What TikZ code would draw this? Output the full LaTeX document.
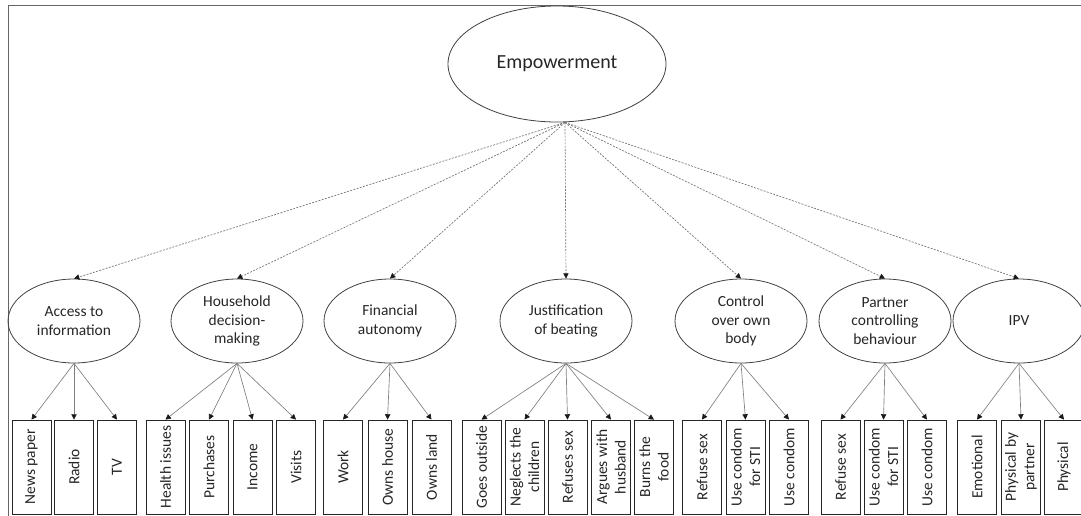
\documentclass[tikz,border=0pt]{standalone}
\usepackage{fontspec}
\setmainfont{Carlito}
\usetikzlibrary{arrows.meta,shapes.geometric}
\begin{document}
\begin{tikzpicture}[x=0.75pt,y=-0.75pt,
  every node/.style={font=\fontsize{11.6}{13.9}\selectfont, text=black!85},
  topfactor/.style={ellipse, draw=black!75, line width=0.6pt, minimum width=163.5pt,
    minimum height=87pt, inner sep=0pt, font=\fontsize{15}{18}\selectfont},
  latent/.style={ellipse, draw=black!75, line width=0.6pt, minimum width=99pt,
    minimum height=63pt, inner sep=0pt, align=center},
  item/.style={draw=black!85, line width=0.6pt, rotate=90, minimum width=70.5pt,
    minimum height=29.25pt, inner sep=1pt, align=center},
  load/.style={draw=black!50, line width=0.5pt,
    -{Triangle[length=4pt,width=4pt,color=black!90]}},
  factorpath/.style={draw=black!55, line width=0.5pt, dash pattern=on 1.5pt off 1pt,
    -{Triangle[length=4pt,width=4pt,color=black!90]}}]
\useasboundingbox (0,0) rectangle (1081,515);
\clip (0,0) rectangle (1081,515);

% outer frame
\draw[draw=black!60, line width=1.1pt] (8.5,600) -- (8.5,5.5) -- (1100,5.5);

% second-order factor
\node[topfactor] (emp) at (557,64) {Empowerment};
\coordinate (hub) at ([xshift=6pt]emp.south);

% first-order factors
\node[latent] (acc) at (74,321)   {Access to\\information};
\node[latent] (hh)  at (237,321)  {Household\\decision-\\making};
\node[latent] (fin) at (390,321)  {Financial\\autonomy};
\node[latent] (jus) at (566,321)  {Justification\\of beating};
\node[latent] (ctl) at (741,321)  {Control\\over own\\body};
\node[latent] (par) at (885,321)  {Partner\\controlling\\behaviour};
\node[latent] (ipv) at (1019,321) {IPV};

\foreach \f in {acc,hh,fin,jus,ctl,par,ipv}
  \draw[factorpath] (hub) -- (\f.north);

% indicators
\node[item] (np)  at (31.5,467)  {News paper};
\node[item] (rad) at (74,467)    {Radio};
\node[item] (tv)  at (117,467)   {TV};
\node[item] (hi)  at (165.5,467) {Health issues};
\node[item] (pur) at (209,467)   {Purchases};
\node[item] (inc) at (252.5,467) {Income};
\node[item] (vis) at (296,467)   {Visits};
\node[item] (wrk) at (343,467)   {Work};
\node[item] (oh)  at (387.5,467) {Owns house};
\node[item] (ol)  at (431.5,467) {Owns land};
\node[item] (go)  at (481.5,467) {Goes outside};
\node[item] (neg) at (524.5,467) {Neglects the\\children};
\node[item] (rfs) at (567.5,467) {Refuses sex};
\node[item] (arg) at (611,467)   {Argues with\\husband};
\node[item] (brn) at (654,467)   {Burns the\\food};
\node[item] (cr)  at (702,467)   {Refuse sex};
\node[item] (cs)  at (745.5,467) {Use condom\\for STI};
\node[item] (cu)  at (789,467)   {Use condom};
\node[item] (pr)  at (840.5,467) {Refuse sex};
\node[item] (ps)  at (883.5,467) {Use condom\\for STI};
\node[item] (pu)  at (927,467)   {Use condom};
\node[item] (emo) at (977,467)   {Emotional};
\node[item] (pbp) at (1021,467)  {Physical by\\partner};
\node[item] (phy) at (1064,467)  {Physical};

% loadings (rotated boxes: east anchor is the top edge)
\foreach \f/\list in {acc/{np,rad,tv}, hh/{hi,pur,inc,vis}, fin/{wrk,oh,ol},
    jus/{go,neg,rfs,arg,brn}, ctl/{cr,cs,cu}, par/{pr,ps,pu}, ipv/{emo,pbp,phy}}
  \foreach \i in \list
    \draw[load] (\f.south) -- (\i.east);
\end{tikzpicture}
\end{document}
